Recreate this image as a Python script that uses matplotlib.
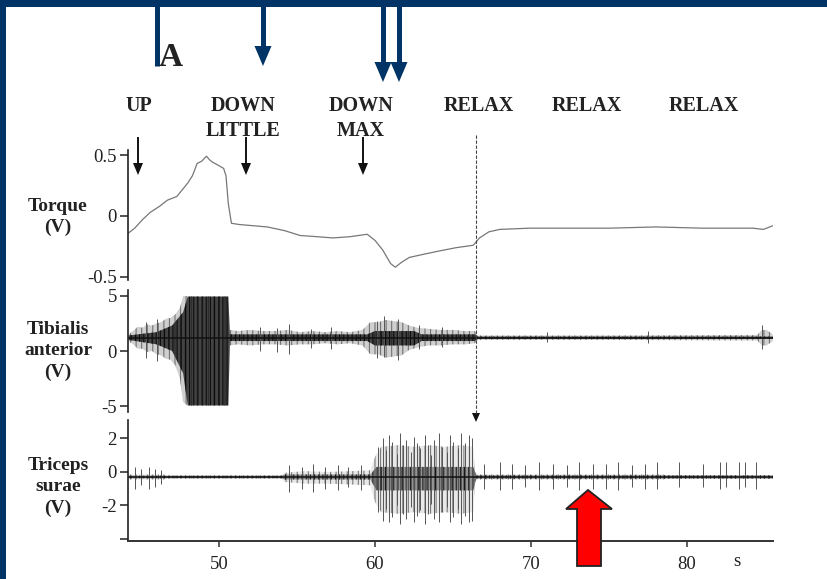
import matplotlib
matplotlib.use("Agg")
import matplotlib.pyplot as plt
from matplotlib.patches import Polygon, Rectangle

plt.rcParams["font.family"] = ["Liberation Serif", "DejaVu Serif"]
plt.rcParams["hatch.linewidth"] = 0.8

NAVY = "#003366"

# Torque trace (time in s, volts)
torque_t = [44.2, 44.6, 45.1, 45.6, 46.2, 46.7, 47.3, 48.0, 48.3, 48.6, 48.9, 49.2, 49.4,
            49.6, 49.9, 50.3, 50.45, 50.6, 50.8, 51.3, 52.2, 53.1, 54.2, 55.2, 56.3, 57.3,
            58.4, 59.5, 60.0, 60.5, 61.0, 61.3, 61.7, 62.2, 62.9, 64.0, 65.2, 66.3, 66.7,
            67.3, 68.0, 69.9, 72.0, 75.0, 78.0, 81.0, 84.2, 84.9, 85.5]
torque_v = [-0.14, -0.10, -0.03, 0.03, 0.08, 0.13, 0.16, 0.27, 0.33, 0.43, 0.45, 0.49, 0.46,
            0.44, 0.42, 0.39, 0.33, 0.10, -0.06, -0.07, -0.08, -0.09, -0.12, -0.16, -0.17, -0.18,
            -0.17, -0.15, -0.20, -0.28, -0.39, -0.42, -0.38, -0.34, -0.32, -0.29, -0.26, -0.24, -0.18,
            -0.13, -0.11, -0.10, -0.10, -0.10, -0.09, -0.10, -0.10, -0.11, -0.08]

# Tibialis anterior EMG: outer envelope and dense core (V)
ta_base = 1.2
ta_t = [44.2, 44.5, 44.8, 45.1, 45.4, 45.7, 46.0, 46.3, 46.6, 46.9, 47.2, 47.5, 47.7,
        48.0, 50.6, 50.7, 51.2, 52.0, 52.8, 53.6, 54.4, 55.2, 56.0, 56.8, 57.6, 58.4, 59.2,
        59.7, 60.2, 60.7, 61.2, 61.7, 62.2, 62.7, 63.4, 64.2, 65.0, 65.8, 66.4, 66.6,
        75.0, 84.5, 84.8, 85.1, 85.5]
ta_hi = [1.5, 1.8, 2.2, 2.1, 2.4, 2.3, 2.5, 2.6, 2.9, 3.0, 3.3, 3.9, 4.95,
         4.95, 4.95, 1.9, 1.8, 1.9, 1.8, 1.8, 1.9, 1.7, 1.8, 1.7, 1.8, 1.7, 1.9,
         2.6, 2.6, 2.8, 2.7, 2.6, 2.3, 2.1, 2.0, 1.9, 1.9, 1.8, 1.8, 1.4,
         1.4, 1.45, 1.9, 1.9, 1.5]
ta_lo = [0.9, 0.6, 0.2, 0.2, -0.1, 0.0, -0.3, -0.4, -0.7, -0.8, -1.3, -2.5, -4.6,
         -4.95, -4.95, 0.5, 0.6, 0.5, 0.6, 0.6, 0.5, 0.6, 0.6, 0.7, 0.6, 0.7, 0.5,
         -0.3, -0.3, -0.6, -0.5, -0.4, 0.1, 0.3, 0.5, 0.5, 0.6, 0.6, 0.7, 1.0,
         1.0, 0.95, 0.5, 0.5, 0.9]
ta_core_t = [44.2, 46.0, 47.0, 47.7, 48.0, 50.6, 50.7, 59.5, 60.0, 62.5, 63.0, 66.4, 66.6, 85.5]
ta_core_hi = [1.4, 1.7, 2.3, 3.5, 4.9, 4.9, 1.5, 1.5, 1.8, 1.8, 1.5, 1.5, 1.3, 1.3]
ta_core_lo = [1.0, 0.6, 0.0, -2.0, -4.9, -4.9, 0.9, 0.9, 0.5, 0.5, 0.9, 0.9, 1.1, 1.1]
ta_spike_t = [45.3, 46.0, 52.6, 53.7, 54.5, 55.9, 57.2, 60.1, 60.6, 61.5, 62.8, 64.3, 71.0, 77.5, 84.8]
ta_spike_top = [2.6, 2.9, 2.2, 2.1, 2.4, 2.0, 2.2, 2.7, 3.2, 2.9, 2.3, 2.2, 1.7, 1.8, 2.3]
ta_spike_bot = [-0.6, -0.9, 0.0, -0.1, -0.3, 0.3, 0.2, -0.6, -0.5, -0.8, 0.2, 0.4, 0.8, 0.7, 0.2]

# Triceps surae EMG: outer envelope and dense core (V)
ts_base = -0.3
ts_t = [44.2, 46.5, 46.6, 54.0, 54.2, 55.5, 57.0, 58.5, 59.7, 60.0, 60.4, 61.5, 62.5,
        63.5, 64.5, 65.5, 66.3, 66.4, 66.6, 78.5, 78.7, 85.5]
ts_hi = [-0.15, -0.15, -0.22, -0.22, -0.05, 0.05, 0.0, 0.05, 0.1, 0.9, 1.5, 1.6, 1.5,
         1.6, 1.5, 1.6, 1.5, 0.0, -0.15, -0.15, -0.22, -0.22]
ts_lo = [-0.45, -0.45, -0.38, -0.38, -0.6, -0.7, -0.7, -0.75, -0.8, -1.8, -2.4, -2.5, -2.4,
         -2.5, -2.4, -2.5, -2.4, -0.6, -0.45, -0.45, -0.38, -0.38]
ts_core_t = [44.2, 54.0, 54.2, 59.7, 60.1, 66.3, 66.5, 85.5]
ts_core_hi = [-0.22, -0.22, -0.15, -0.15, 0.3, 0.3, -0.2, -0.2]
ts_core_lo = [-0.38, -0.38, -0.45, -0.45, -1.1, -1.1, -0.4, -0.4]
ts_spike_t = [44.6, 45.0, 45.5, 45.9, 46.3, 54.5, 55.3, 56.0, 56.8, 57.6, 58.3, 59.1,
              60.2, 60.5, 60.7, 60.9, 61.1, 61.4, 61.6, 61.8, 62.0, 62.3, 62.5, 62.7, 62.9,
              63.2, 63.4, 63.6, 63.8, 64.1, 64.3, 64.6, 64.8, 65.0, 65.3, 65.5, 65.8, 66.0, 66.2,
              67.0, 68.0, 68.8, 69.6, 70.5, 71.4, 72.3, 73.1, 74.0, 74.8, 75.6, 76.5, 77.3, 78.1,
              79.5, 81.0, 82.1, 82.5, 83.3, 83.7, 84.4]
ts_spike_top = [0.3, 0.2, 0.3, 0.2, 0.1, 0.4, 0.3, 0.5, 0.3, 0.4, 0.3, 0.4,
                1.5, 2.0, 1.3, 2.2, 1.8, 1.1, 2.3, 1.6, 1.9, 1.2, 2.1, 1.7, 1.4,
                2.2, 1.6, 1.0, 1.9, 2.3, 1.5, 1.2, 2.2, 1.8, 1.4, 2.3, 1.7, 2.2, 2.0,
                0.5, 0.6, 0.5, 0.4, 0.6, 0.5, 0.4, 0.6, 0.5, 0.5, 0.6, 0.4, 0.5, 0.6,
                0.6, 0.5, 0.6, 0.6, 0.6, 0.6, 0.6]
ts_spike_bot = [-1.0, -0.8, -1.0, -0.9, -0.7, -1.2, -1.0, -1.2, -1.0, -1.1, -0.9, -1.1,
                -2.4, -2.9, -2.2, -3.0, -2.7, -2.0, -3.1, -2.5, -2.8, -2.1, -3.0, -2.6, -2.3,
                -3.1, -2.5, -1.9, -2.8, -3.0, -2.4, -2.1, -3.0, -2.7, -2.2, -3.1, -2.6, -3.0, -2.9,
                -1.0, -1.1, -1.0, -0.9, -1.1, -1.0, -0.9, -1.1, -1.0, -1.0, -1.1, -0.9, -1.0, -1.0,
                -0.9, -0.9, -1.0, -0.9, -1.0, -0.9, -1.0]

x_ticks = [50, 60, 70, 80]
event_labels = ["UP", "DOWN\nLITTLE", "DOWN\nMAX", "RELAX", "RELAX", "RELAX"]
panel_labels = ["Torque\n(V)", "Tibialis\nanterior\n(V)", "Triceps\nsurae\n(V)"]

W, H = 827, 579
fig = plt.figure(figsize=(W / 100, H / 100), dpi=100)
fig.patch.set_facecolor("white")
xlim = (44.17, 85.51)


def px_axes(top, bottom):
    return fig.add_axes([128 / W, 1 - bottom / H, (773 - 128) / W, (bottom - top) / H])


def style(ax, yt, ylab):
    for s in ("top", "right", "bottom"):
        ax.spines[s].set_visible(False)
    ax.spines["left"].set_linewidth(1.2)
    ax.spines["left"].set_color("#222")
    ax.set_xlim(*xlim)
    ax.set_yticks(yt)
    ax.set_yticklabels(ylab, fontsize=13.5, color="#222")
    ax.tick_params(axis="y", direction="out", length=6, width=1.1, pad=2, color="#222")
    ax.set_xticks([])
    ax.patch.set_alpha(0)


def emg(ax, t, lo, hi, ct, clo, chi, st, sbot, stop, base, shade, dark):
    ax.fill_between(t, lo, hi, facecolor=(0.4, 0.4, 0.4, shade),
                    edgecolor=(0.2, 0.2, 0.2, 0.6), hatch="|||", linewidth=0)
    ax.fill_between(ct, clo, chi, facecolor=(0.08, 0.08, 0.08, dark),
                    edgecolor=(0, 0, 0, 0.8), hatch="||||", linewidth=0)
    ax.vlines(st, sbot, stop, color="#555", lw=0.7)
    ax.axhline(base, color="#111", lw=1.1)


# torque
ax1 = px_axes(150, 280)
ax1.plot(torque_t, torque_v, color="#777", lw=0.9)
ax1.set_ylim(-0.525, 0.541)
style(ax1, [-0.5, 0, 0.5], ["-0.5", "0", "0.5"])

# tibialis anterior
ax2 = px_axes(290, 412)
emg(ax2, ta_t, ta_lo, ta_hi, ta_core_t, ta_core_lo, ta_core_hi,
    ta_spike_t, ta_spike_bot, ta_spike_top, ta_base, 0.3, 0.75)
ax2.set_ylim(-5.5, 5.5)
style(ax2, [-5, 0, 5], ["-5", "0", "5"])

# triceps surae
ax3 = px_axes(420, 541)
emg(ax3, ts_t, ts_lo, ts_hi, ts_core_t, ts_core_lo, ts_core_hi,
    ts_spike_t, ts_spike_bot, ts_spike_top, ts_base, 0.15, 0.4)
ax3.set_ylim(-4.12, 3.1)
style(ax3, [-4, -2, 0, 2], ["", "-2", "0", "2"])
ax3.spines["bottom"].set_visible(True)
ax3.spines["bottom"].set_linewidth(1.4)
ax3.spines["bottom"].set_color("#333")
ax3.set_xticks(x_ticks)
ax3.set_xticklabels([str(v) for v in x_ticks], fontsize=13.5, color="#222")
ax3.tick_params(axis="x", direction="out", length=4, width=1.1, pad=7, color="#333")

# overlay in pixel units for frame, labels and arrows
ov = fig.add_axes([0, 0, 1, 1], zorder=5)
ov.set_xlim(0, W)
ov.set_ylim(H, 0)
ov.axis("off")
ov.patch.set_alpha(0)

ov.add_patch(Rectangle((0, 0), W, 7, color=NAVY, lw=0))
ov.add_patch(Rectangle((0, 0), 6, H, color=NAVY, lw=0))

# navy arrows from the top edge
ov.plot([157, 157], [6, 66], color=NAVY, lw=3.6, solid_capstyle="butt")
for x, base, tip in [(263, 46, 66), (383, 62, 82), (399, 62, 82)]:
    ov.plot([x, x], [6, base + 1], color=NAVY, lw=3.6, solid_capstyle="butt")
    ov.add_patch(Polygon([(x - 8.5, base), (x + 8.5, base), (x, tip)], closed=True,
                         color=NAVY, lw=0))

ov.text(171, 58, "A", fontsize=24, fontweight="bold", ha="center", va="center", color="#222")

for x, lab in zip([139, 243, 361, 479, 587, 704], event_labels):
    ov.text(x, 96, lab, fontsize=14.5, fontweight="bold", ha="center", va="top",
            color="#222", linespacing=1.3)

# small black event arrows
for x in [138, 246, 363]:
    ov.plot([x, x], [138, 164], color="#111", lw=1.4)
    ov.add_patch(Polygon([(x - 5, 163), (x + 5, 163), (x, 175)], closed=True, color="#111", lw=0))

# relax marker
ov.plot([476, 476], [135, 414], color="#444", lw=0.8, ls=(0, (3, 1.5)))
ov.add_patch(Polygon([(472, 413), (480, 413), (476, 422)], closed=True, color="#111", lw=0))

for y, lab in zip([217, 351, 487], panel_labels):
    ov.text(58, y, lab, fontsize=14, fontweight="bold", ha="center", va="center",
            color="#222", linespacing=1.3)

ov.text(737, 562, "s", fontsize=13.5, ha="center", va="center", color="#222")

# red block arrow pointing up at the late triceps activity
ov.add_patch(Polygon([(588, 490), (612, 509), (601, 509), (601, 566), (577, 566),
                      (577, 509), (566, 509)], closed=True, facecolor="#ff0000",
                     edgecolor="#222", lw=1.3, zorder=6))

fig.savefig("out.png", dpi=100)
